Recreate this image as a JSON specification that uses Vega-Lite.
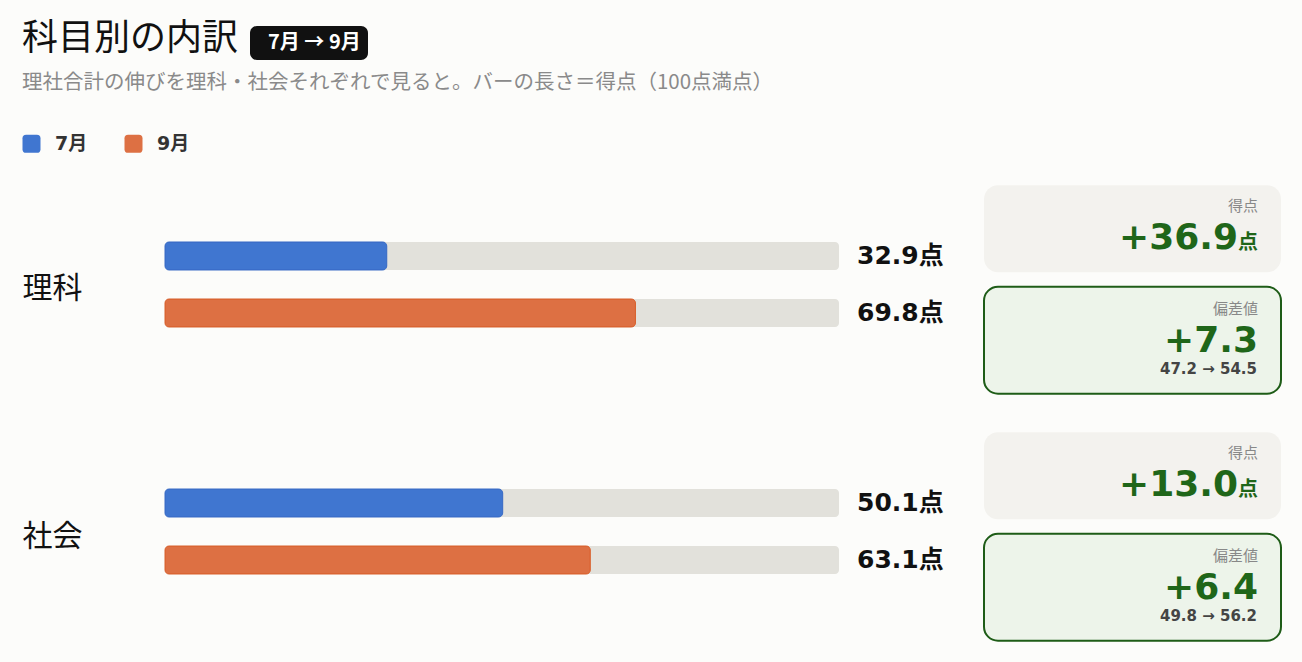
{
  "$schema": "https://vega.github.io/schema/vega-lite/v6.json",
  "background": "#fcfcfa",
  "padding": {"left": 22, "top": 20, "right": 22, "bottom": 7},
  "config": {
    "view": {"stroke": null},
    "font": "Noto Sans CJK JP"
  },
  "title": {
    "text": "科目別の内訳",
    "subtitle": "理社合計の伸びを理科・社会それぞれで見ると。バーの長さ＝得点（100点満点）",
    "anchor": "start",
    "frame": "bounds",
    "font": "Noto Sans CJK JP",
    "fontSize": 36,
    "fontWeight": "normal",
    "color": "#111111",
    "subtitleFont": "Noto Sans CJK JP",
    "subtitleFontSize": 20.5,
    "subtitleColor": "#8a8a8a",
    "subtitlePadding": 15,
    "offset": -68
  },
  "spacing": 0,
  "resolve": {"scale": {"y": "independent", "yOffset": "independent"}},
  "hconcat": [
    {
      "width": 818,
      "height": 494,
      "data": {
        "values": [
          {"subject": "理科", "month": "7月", "score": 32.9},
          {"subject": "理科", "month": "9月", "score": 69.8},
          {"subject": "社会", "month": "7月", "score": 50.1},
          {"subject": "社会", "month": "9月", "score": 63.1}
        ]
      },
      "layer": [
        {
          "mark": {"type": "bar", "color": "#e2e1db", "cornerRadius": 4},
          "encoding": {
            "y": {"field": "subject", "type": "nominal", "sort": ["理科", "社会"],
              "scale": {"domain": ["理科", "社会"], "paddingInner": 0.5385, "paddingOuter": 0.2692},
              "axis": {"title": null, "ticks": false, "domain": false, "labelAlign": "left", "labelPadding": 143,
                "labelFontSize": 30, "labelColor": "#111111", "labelFont": "Noto Sans CJK JP", "labelOffset": 5, "labelBaseline": "middle"}},
            "yOffset": {"field": "month", "type": "nominal", "sort": ["7月", "9月"],
              "scale": {"domain": ["7月", "9月"], "range": [0, 114], "paddingInner": 0.5088, "paddingOuter": 0.2544}},
            "x": {"datum": 0, "type": "quantitative", "scale": {"domain": [0, 121.36], "nice": false, "zero": true}, "axis": null},
            "x2": {"datum": 100}
          }
        },
        {
          "mark": {"type": "bar", "cornerRadius": 4, "strokeWidth": 1},
          "encoding": {
            "y": {"field": "subject", "type": "nominal", "sort": ["理科", "社会"]},
            "yOffset": {"field": "month", "type": "nominal", "sort": ["7月", "9月"]},
            "x": {"field": "score", "type": "quantitative", "scale": {"domain": [0, 121.36], "nice": false, "zero": true}, "axis": null},
            "stroke": {"field": "month", "type": "nominal",
              "scale": {"domain": ["7月", "9月"], "range": ["#3a6cc6", "#d9622f"]}, "legend": null},
            "color": {"field": "month", "type": "nominal",
              "scale": {"domain": ["7月", "9月"], "range": ["#4076d0", "#dd7043"]},
              "legend": {"title": null, "orient": "none", "legendX": -143, "legendY": -27, "direction": "horizontal",
                "padding": 0, "symbolType": "M-0.6,-1H0.6Q1,-1 1,-0.6V0.6Q1,1 0.6,1H-0.6Q-1,1 -1,0.6V-0.6Q-1,-1 -0.6,-1Z",
                "symbolSize": 324, "symbolStrokeWidth": 0, "labelFontSize": 19, "labelFontWeight": "bold",
                "labelFont": "DejaVu Sans, Noto Sans CJK JP", "labelColor": "#333333", "labelOffset": 14, "columnPadding": 36}}
          }
        },
        {
          "transform": [{"calculate": "format(datum.score, '.1f') + '点'", "as": "label"}],
          "mark": {"type": "text", "align": "left", "baseline": "middle", "dx": 18, "fontSize": 25, "fontWeight": "bold",
            "font": "DejaVu Sans, Noto Sans CJK JP", "color": "#111111"},
          "encoding": {
            "y": {"field": "subject", "type": "nominal", "sort": ["理科", "社会"]},
            "yOffset": {"field": "month", "type": "nominal", "sort": ["7月", "9月"]},
            "x": {"datum": 100, "type": "quantitative", "scale": {"domain": [0, 121.36], "nice": false, "zero": true}, "axis": null},
            "text": {"field": "label"}
          }
        },
        {
          "data": {"values": [{"period": "7月 → 9月"}]},
          "mark": {"type": "point", "opacity": 0, "size": 0},
          "encoding": {
            "shape": {"field": "period", "type": "nominal",
              "legend": {"title": null, "orient": "none", "legendX": 85, "legendY": -135, "fillColor": "#111111",
                "cornerRadius": 7, "padding": 7, "symbolSize": 1, "symbolOpacity": 0, "symbolStrokeWidth": 0,
                "labelColor": "#ffffff", "labelFontSize": 20, "labelFontWeight": "bold",
                "labelFont": "Noto Sans CJK JP", "labelOffset": -9}}
          }
        }
      ]
    },
    {
      "width": 297,
      "height": 494,
      "data": {
        "values": [
          {"subject": "理科", "kind": "得点", "delta": 36.9},
          {"subject": "理科", "kind": "偏差値", "delta": 7.3, "from": 47.2, "to": 54.5},
          {"subject": "社会", "kind": "得点", "delta": 13.0},
          {"subject": "社会", "kind": "偏差値", "delta": 6.4, "from": 49.8, "to": 56.2}
        ]
      },
      "encoding": {
        "y": {"field": "subject", "type": "nominal", "sort": ["理科", "社会"],
          "scale": {"domain": ["理科", "社会"], "paddingInner": 0, "paddingOuter": 0}, "axis": null},
        "yOffset": {"field": "kind", "type": "nominal", "sort": ["得点", "偏差値"],
          "scale": {"domain": ["得点", "偏差値"], "range": [0, 247], "paddingInner": 0, "paddingOuter": 0.1076}}
      },
      "layer": [
        {
          "transform": [{"filter": "datum.kind === '得点'"}],
          "mark": {"type": "bar", "height": 87, "cornerRadius": 14, "color": "#f3f2ee"}
        },
        {
          "transform": [{"filter": "datum.kind === '偏差値'"}],
          "mark": {"type": "bar", "height": 107, "cornerRadius": 14, "color": "#edf4ea", "stroke": "#1e5c17", "strokeWidth": 2}
        },
        {
          "transform": [{"filter": "datum.kind === '得点'"}],
          "mark": {"type": "text", "align": "right", "baseline": "middle", "dx": -23, "dy": -23, "fontSize": 15, "color": "#888888", "font": "Noto Sans CJK JP"},
          "encoding": {"x": {"value": "width"}, "text": {"field": "kind"}}
        },
        {
          "transform": [{"filter": "datum.kind === '得点'"}],
          "mark": {"type": "text", "align": "right", "baseline": "alphabetic", "dx": -43, "dy": 20, "fontSize": 36, "fontWeight": "bold", "color": "#1f6619", "font": "DejaVu Sans"},
          "encoding": {"x": {"value": "width"}, "text": {"field": "delta", "type": "quantitative", "format": "+.1f"}}
        },
        {
          "transform": [{"filter": "datum.kind === '得点'"}],
          "mark": {"type": "text", "align": "right", "baseline": "alphabetic", "dx": -23, "dy": 20, "fontSize": 20, "fontWeight": "bold", "color": "#1f6619", "font": "Noto Sans CJK JP", "text": "点"},
          "encoding": {"x": {"value": "width"}}
        },
        {
          "transform": [{"filter": "datum.kind === '偏差値'"}],
          "mark": {"type": "text", "align": "right", "baseline": "middle", "dx": -23, "dy": -31, "fontSize": 15, "color": "#888888", "font": "Noto Sans CJK JP"},
          "encoding": {"x": {"value": "width"}, "text": {"field": "kind"}}
        },
        {
          "transform": [{"filter": "datum.kind === '偏差値'"}],
          "mark": {"type": "text", "align": "right", "baseline": "alphabetic", "dx": -23, "dy": 12, "fontSize": 36, "fontWeight": "bold", "color": "#1f6619", "font": "DejaVu Sans"},
          "encoding": {"x": {"value": "width"}, "text": {"field": "delta", "type": "quantitative", "format": "+.1f"}}
        },
        {
          "transform": [
            {"filter": "datum.kind === '偏差値'"},
            {"calculate": "format(datum.from, '.1f') + ' → ' + format(datum.to, '.1f')", "as": "range"}
          ],
          "mark": {"type": "text", "align": "right", "baseline": "alphabetic", "dx": -24, "dy": 34, "fontSize": 15, "fontWeight": "bold", "color": "#444444", "font": "DejaVu Sans"},
          "encoding": {"x": {"value": "width"}, "text": {"field": "range"}}
        }
      ]
    }
  ]
}
